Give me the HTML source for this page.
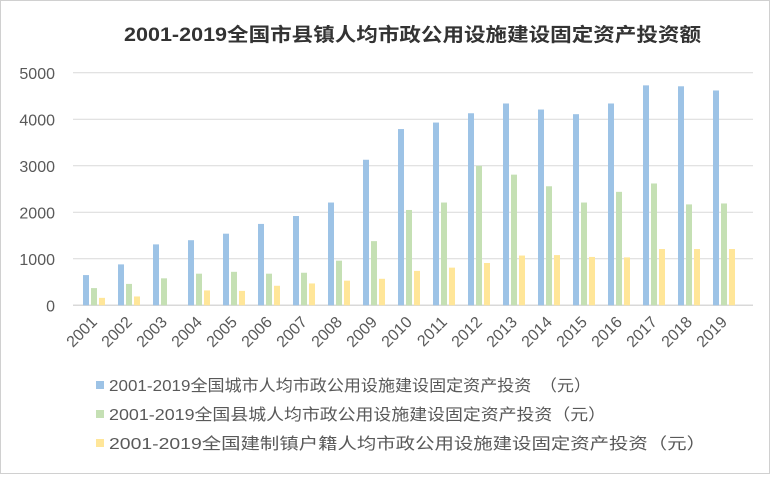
<!DOCTYPE html>
<html><head><meta charset="utf-8"><style>
body{margin:0;background:#fff}
#c{position:relative;width:768px;height:472px;border:1px solid #d0d0d0;background:#fff;font-family:"Liberation Sans","Noto Sans CJK SC",sans-serif}
</style></head><body>
<div id="c">
<svg id="s" width="768" height="472"></svg>
</div>
<script>
const years=["2001","2002","2003","2004","2005","2006","2007","2008","2009","2010","2011","2012","2013","2014","2015","2016","2017","2018","2019"];
const cityVals=[650,880,1310,1400,1540,1750,1920,2210,3130,3790,3930,4130,4340,4210,4110,4340,4730,4710,4620];
const countyVals=[370,460,580,680,720,680,700,960,1380,2050,2210,3000,2810,2560,2210,2440,2620,2170,2190];
const townVals=[160,190,0,320,310,420,470,530,570,740,810,910,1070,1080,1040,1030,1210,1210,1210];
const yTicks=[0,1000,2000,3000,4000,5000];
const seriesNames=["2001-2019全国城市人均市政公用设施建设固定资产投资　（元）","2001-2019全国县城人均市政公用设施建设固定资产投资（元）","2001-2019全国建制镇户籍人均市政公用设施建设固定资产投资（元）"];
const legendLens=[482,497,597];
const colors=["#9dc3e6","#c5e0b4","#ffe699"];
const NS="http://www.w3.org/2000/svg";
const svg=document.getElementById('s');
const y0=304.3,ppu=46.5/1000,x0=75.5,cw=35;
const y=v=>y0-v*ppu, xc=i=>x0+cw*(i+0.5);
function el(t,a,txt){const e=document.createElementNS(NS,t);for(const k in a)e.setAttribute(k,a[k]);if(txt!=null)e.textContent=txt;svg.appendChild(e);return e;}
const title=el('text',{x:123,y:40,'font-size':19,'font-weight':'bold',fill:'#333',textLength:577,lengthAdjust:'spacingAndGlyphs'},"2001-2019全国市县镇人均市政公用设施建设固定资产投资额");


yTicks.forEach(t=>{
  const g=el('line',{x1:72,x2:752,y1:y(t),y2:y(t),stroke:'#d9d9d9','stroke-width':t==0?1.5:1});
  
  
  const l=el('text',{x:54,y:y(t)+6,'text-anchor':'end','font-size':16,fill:'#595959'},t);
  
  
});
const all=[cityVals,countyVals,townVals];
years.forEach((yr,i)=>{
  all.forEach((arr,s)=>{
    const v=arr[i];
    const r=el('rect',{x:xc(i)-11+s*8,y:y(v),width:6,height:v*ppu,fill:colors[s]});
    
    
  });
  const cx=xc(i)+4,cy=322;
  const t=el('text',{x:cx,y:cy,'text-anchor':'end','font-size':16,fill:'#595959',transform:`rotate(-45 ${cx} ${cy})`},yr);
  
  
});
seriesNames.forEach((n,s)=>{
  const yy=385+s*29;
  const r=el('rect',{x:95,y:yy-5,width:8,height:8,fill:colors[s]});
  
  
  const t=el('text',{x:108,y:yy+5,'font-size':16,fill:'#595959',textLength:legendLens[s],lengthAdjust:'spacingAndGlyphs'},n);
  
  
});
</script>
</body></html>
